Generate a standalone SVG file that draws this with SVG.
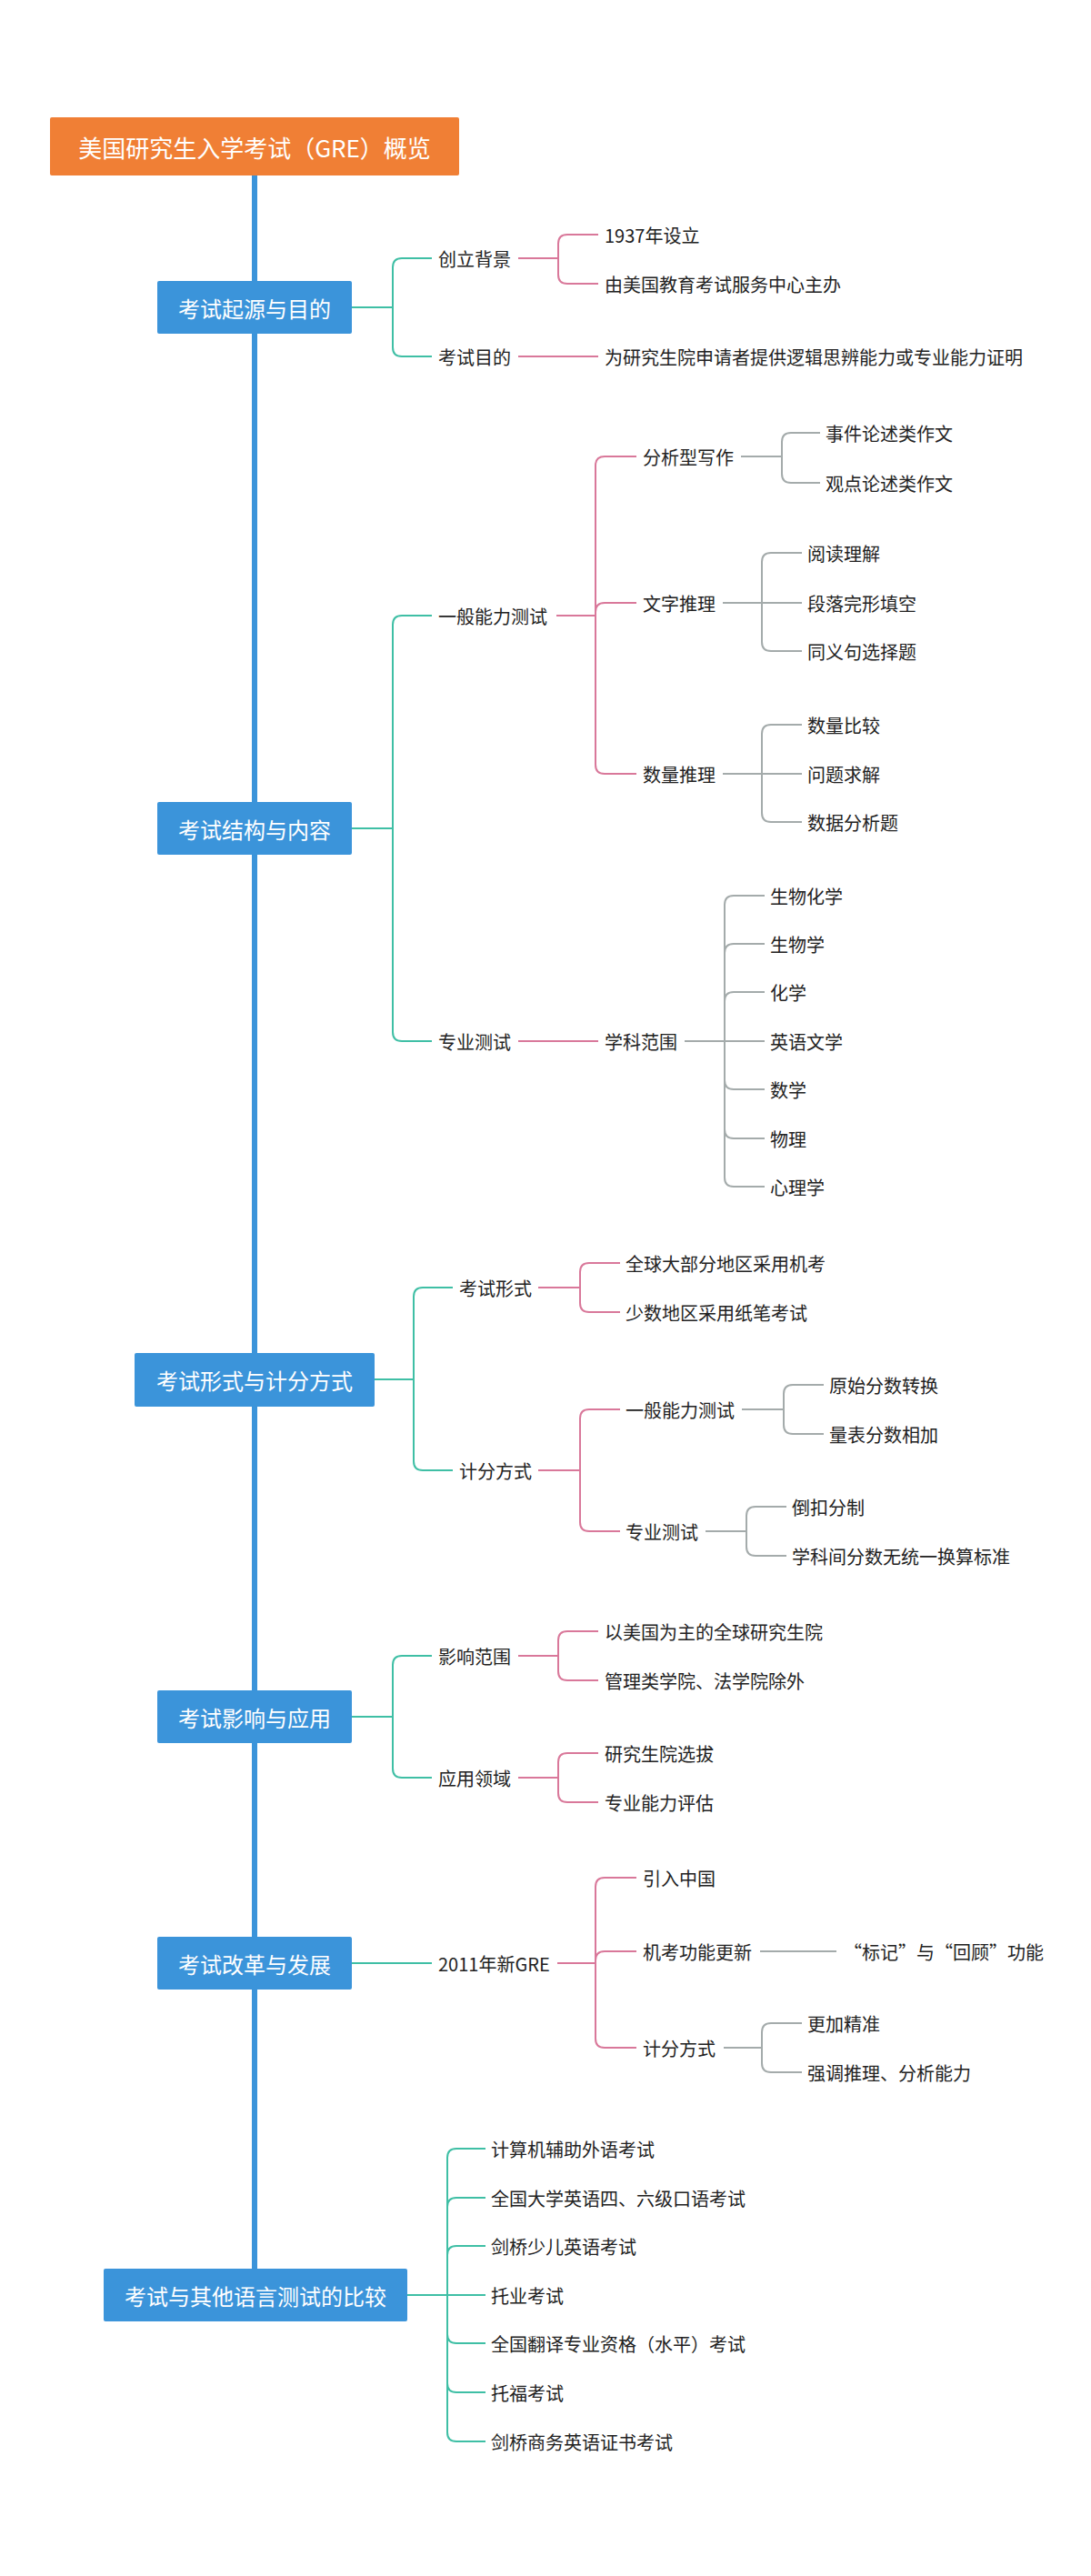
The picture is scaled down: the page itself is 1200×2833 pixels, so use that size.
<svg xmlns="http://www.w3.org/2000/svg" width="1200" height="2833" viewBox="0 0 1200 2833">
<style>
text{font-family:"Noto Sans CJK SC","Noto Sans",sans-serif;dominant-baseline:central}
.t{font-size:20px;fill:#222}
.b{font-size:24px;fill:#fff;text-anchor:middle}
.r{font-size:26px;fill:#fff;text-anchor:middle}
.box{fill:#3b94da}
.c{fill:none;stroke-width:2}
.g{stroke:#3fbfa5}.p{stroke:#d9789a}.y{stroke:#a4abab}
</style>
<rect width="1200" height="2833" fill="#fff"/>
<g id="connectors">
<path d="M280 193 V2495" stroke="#3b94da" stroke-width="6" fill="none"/>
<!-- s1 -->
<path class="c g" d="M387 338 H432 V294 Q432 284 442 284 H475 M432 338 V382 Q432 392 442 392 H475"/>
<path class="c p" d="M570 284 H614 V268 Q614 258 624 258 H658 M614 284 V302 Q614 312 624 312 H658"/>
<path class="c p" d="M570 392 H658"/>
<!-- s2 -->
<path class="c g" d="M387 911 H432 V687 Q432 677 442 677 H475 M432 911 V1135 Q432 1145 442 1145 H475"/>
<path class="c p" d="M612 677 H655 V512 Q655 502 665 502 H700 M655 677 V673 Q655 663 665 663 H700 M655 677 V841 Q655 851 665 851 H700"/>
<path class="c y" d="M815 502 H860 V486 Q860 476 870 476 H902 M860 502 V521 Q860 531 870 531 H902"/>
<path class="c y" d="M795 663 H838 V618 Q838 608 848 608 H882 M838 663 H882 M838 663 V706 Q838 716 848 716 H882"/>
<path class="c y" d="M795 851 H838 V807 Q838 797 848 797 H882 M838 851 H882 M838 851 V894 Q838 904 848 904 H882"/>
<path class="c p" d="M570 1145 H658"/>
<path class="c y" d="M753 1145 H797 V995 Q797 985 807 985 H841 M797 1145 V1048 Q797 1038 807 1038 H841 M797 1145 V1101 Q797 1091 807 1091 H841 M797 1145 H841 M797 1145 V1188 Q797 1198 807 1198 H841 M797 1145 V1242 Q797 1252 807 1252 H841 M797 1145 V1295 Q797 1305 807 1305 H841"/>
<!-- s3 -->
<path class="c g" d="M412 1517 H455 V1426 Q455 1416 465 1416 H498 M455 1517 V1607 Q455 1617 465 1617 H498"/>
<path class="c p" d="M592 1416 H638 V1399 Q638 1389 648 1389 H682 M638 1416 V1433 Q638 1443 648 1443 H682"/>
<path class="c p" d="M592 1617 H638 V1560 Q638 1550 648 1550 H682 M638 1617 V1674 Q638 1684 648 1684 H682"/>
<path class="c y" d="M816 1550 H862 V1533 Q862 1523 872 1523 H906 M862 1550 V1567 Q862 1577 872 1577 H906"/>
<path class="c y" d="M776 1684 H821 V1667 Q821 1657 831 1657 H865 M821 1684 V1701 Q821 1711 831 1711 H865"/>
<!-- s4 -->
<path class="c g" d="M387 1888 H432 V1831 Q432 1821 442 1821 H475 M432 1888 V1945 Q432 1955 442 1955 H475"/>
<path class="c p" d="M570 1821 H614 V1804 Q614 1794 624 1794 H658 M614 1821 V1838 Q614 1848 624 1848 H658"/>
<path class="c p" d="M570 1955 H614 V1938 Q614 1928 624 1928 H658 M614 1955 V1972 Q614 1982 624 1982 H658"/>
<!-- s5 -->
<path class="c g" d="M387 2159 H475"/>
<path class="c p" d="M613 2159 H655 V2075 Q655 2065 665 2065 H700 M655 2159 V2156 Q655 2146 665 2146 H700 M655 2159 V2242 Q655 2252 665 2252 H700"/>
<path class="c y" d="M836 2146 H920"/>
<path class="c y" d="M796 2252 H838 V2235 Q838 2225 848 2225 H882 M838 2252 V2269 Q838 2279 848 2279 H882"/>
<!-- s6 -->
<path class="c g" d="M448 2524 H492 V2373 Q492 2363 502 2363 H534 M492 2524 V2427 Q492 2417 502 2417 H534 M492 2524 V2480 Q492 2470 502 2470 H534 M492 2524 H534 M492 2524 V2567 Q492 2577 502 2577 H534 M492 2524 V2621 Q492 2631 502 2631 H534 M492 2524 V2675 Q492 2685 502 2685 H534"/>
</g>
<g id="root"><rect x="55" y="129" width="450" height="64" rx="2" fill="#f07f35"/><text class="r" x="280" y="161">美国研究生入学考试（GRE）概览</text></g>
<g id="s1"><rect class="box" x="173" y="309" width="214" height="58" rx="2"/><text class="b" x="280" y="338">考试起源与目的</text>
<text class="t" x="482" y="284">创立背景</text><text class="t" x="665" y="258">1937年设立</text><text class="t" x="665" y="312">由美国教育考试服务中心主办</text>
<text class="t" x="482" y="392">考试目的</text><text class="t" x="665" y="392">为研究生院申请者提供逻辑思辨能力或专业能力证明</text></g>
<g id="s2"><rect class="box" x="173" y="882" width="214" height="58" rx="2"/><text class="b" x="280" y="911">考试结构与内容</text>
<text class="t" x="482" y="677">一般能力测试</text>
<text class="t" x="707" y="502">分析型写作</text><text class="t" x="908" y="476">事件论述类作文</text><text class="t" x="908" y="531">观点论述类作文</text>
<text class="t" x="707" y="663">文字推理</text><text class="t" x="888" y="608">阅读理解</text><text class="t" x="888" y="663">段落完形填空</text><text class="t" x="888" y="716">同义句选择题</text>
<text class="t" x="707" y="851">数量推理</text><text class="t" x="888" y="797">数量比较</text><text class="t" x="888" y="851">问题求解</text><text class="t" x="888" y="904">数据分析题</text>
<text class="t" x="482" y="1145">专业测试</text><text class="t" x="665" y="1145">学科范围</text>
<text class="t" x="847" y="985">生物化学</text><text class="t" x="847" y="1038">生物学</text><text class="t" x="847" y="1091">化学</text><text class="t" x="847" y="1145">英语文学</text><text class="t" x="847" y="1198">数学</text><text class="t" x="847" y="1252">物理</text><text class="t" x="847" y="1305">心理学</text></g>
<g id="s3"><rect class="box" x="148" y="1488" width="264" height="59" rx="2"/><text class="b" x="280" y="1517">考试形式与计分方式</text>
<text class="t" x="505" y="1416">考试形式</text><text class="t" x="688" y="1389">全球大部分地区采用机考</text><text class="t" x="688" y="1443">少数地区采用纸笔考试</text>
<text class="t" x="505" y="1617">计分方式</text><text class="t" x="688" y="1550">一般能力测试</text><text class="t" x="912" y="1523">原始分数转换</text><text class="t" x="912" y="1577">量表分数相加</text>
<text class="t" x="688" y="1684">专业测试</text><text class="t" x="871" y="1657">倒扣分制</text><text class="t" x="871" y="1711">学科间分数无统一换算标准</text></g>
<g id="s4"><rect class="box" x="173" y="1859" width="214" height="58" rx="2"/><text class="b" x="280" y="1888">考试影响与应用</text>
<text class="t" x="482" y="1821">影响范围</text><text class="t" x="665" y="1794">以美国为主的全球研究生院</text><text class="t" x="665" y="1848">管理类学院、法学院除外</text>
<text class="t" x="482" y="1955">应用领域</text><text class="t" x="665" y="1928">研究生院选拔</text><text class="t" x="665" y="1982">专业能力评估</text></g>
<g id="s5"><rect class="box" x="173" y="2130" width="214" height="58" rx="2"/><text class="b" x="280" y="2159">考试改革与发展</text>
<text class="t" x="482" y="2159">2011年新GRE</text><text class="t" x="707" y="2065">引入中国</text>
<text class="t" x="707" y="2146">机考功能更新</text><text class="t" x="928" y="2146">“标记”与“回顾”功能</text>
<text class="t" x="707" y="2252">计分方式</text><text class="t" x="888" y="2225">更加精准</text><text class="t" x="888" y="2279">强调推理、分析能力</text></g>
<g id="s6"><rect class="box" x="114" y="2495" width="334" height="58" rx="2"/><text class="b" x="281" y="2524">考试与其他语言测试的比较</text>
<text class="t" x="540" y="2363">计算机辅助外语考试</text><text class="t" x="540" y="2417">全国大学英语四、六级口语考试</text><text class="t" x="540" y="2470">剑桥少儿英语考试</text><text class="t" x="540" y="2524">托业考试</text><text class="t" x="540" y="2577">全国翻译专业资格（水平）考试</text><text class="t" x="540" y="2631">托福考试</text><text class="t" x="540" y="2685">剑桥商务英语证书考试</text></g>
</svg>
